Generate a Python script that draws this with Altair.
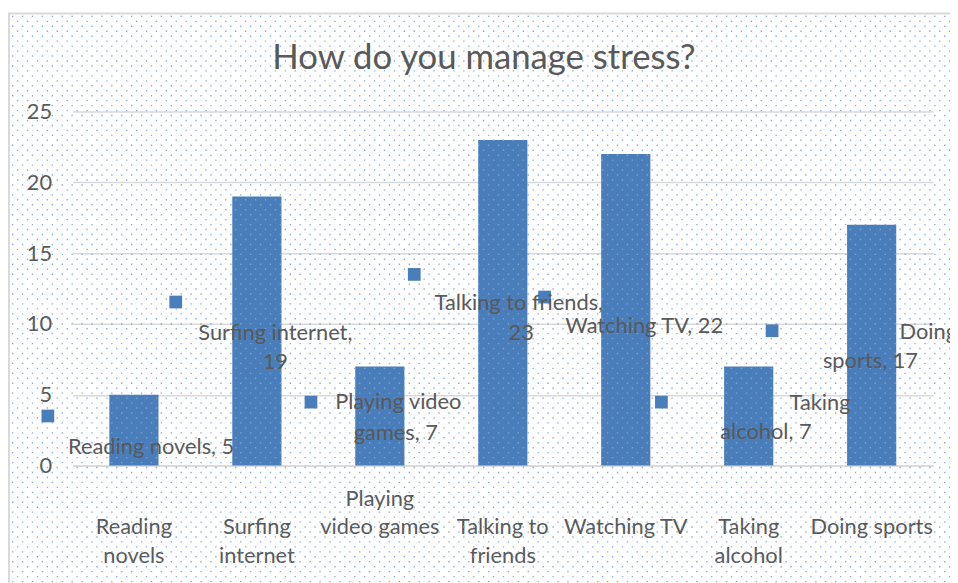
import json
import altair as alt
import pandas as pd
import numpy as np

# ---- data -------------------------------------------------------------
categories = ["Reading novels", "Surfing internet", "Playing video games",
              "Talking to friends", "Watching TV", "Taking alcohol", "Doing sports"]
values = [5, 19, 7, 23, 22, 7, 17]

# axis tick label lines (as wrapped in the original)
axis_label_lines = {
    "Reading novels": ["", "Reading", "novels"],
    "Surfing internet": ["", "Surfing", "internet"],
    "Playing video games": ["Playing", "video games", ""],
    "Talking to friends": ["", "Talking to", "friends"],
    "Watching TV": ["", "Watching TV", ""],
    "Taking alcohol": ["", "Taking", "alcohol"],
    "Doing sports": ["", "Doing sports", ""],
}

# data labels (moved around in the original), in category / value units
label_text = ["Reading novels, 5", "Surfing internet,", "19", "Playing video", "games, 7",
              "Talking to friends,", "23", "Watching TV, 22", "Taking", "alcohol, 7",
              "Doing", "sports, 17"]
label_x = [0.14, 1.15, 1.15, 2.15, 2.13, 3.13, 3.15, 4.15, 5.58, 5.14, 6.46, 5.99]
label_y = [1.33, 9.38, 7.28, 4.48, 2.31, 11.48, 9.38, 9.87, 4.41, 2.38, 9.45, 7.35]

# legend-key squares that accompany the data labels
key_x = [-0.70, 0.34, 1.44, 2.28, 3.34, 4.29, 5.19]
key_y = [3.5, 11.55, 4.48, 13.5, 11.9, 4.48, 9.52]

y_ticks = [0, 5, 10, 15, 20, 25]
title = "How do you manage stress?"

# ---- style --------------------------------------------------------------
FONT = "Lato"
TEXT = "#595959"
GRID = "#d9d9d9"
BAR = "#4a7ebb"
FS = 22
W, H = 868, 357
PAD = {"left": 65, "top": 102, "right": 17, "bottom": 116}

bars_df = pd.DataFrame({"category": categories, "value": values})
labels_df = pd.DataFrame({"text": label_text, "lx": label_x, "ly": label_y})
keys_df = pd.DataFrame({"kx": key_x, "ky": key_y})
title_df = pd.DataFrame({"t": [title]})

# decorative dotted background texture (pixel rows)
rows = np.arange(-96, 476, 5)
dots_even = pd.DataFrame({"py": rows[0::2]})
dots_odd = pd.DataFrame({"py": rows[1::2]})

label_expr = "(" + json.dumps(axis_label_lines) + ")[datum.value]"

yscale = alt.Scale(domain=[0, 25], nice=False)
yaxis = alt.Axis(title=None, values=y_ticks, ticks=False, domain=False,
                 labelPadding=21, gridColor=GRID, gridWidth=1.5, grid=True)
xq = alt.Scale(domain=[-0.5, 6.5], nice=False, zero=False)

border = alt.Chart(pd.DataFrame({"a": [0]})).mark_rect(
    fillOpacity=0, stroke=GRID, strokeWidth=2
).encode(x=alt.value(-64), x2=alt.value(900), y=alt.value(-99), y2=alt.value(600))

dot_kw = dict(color="#80a5d8", strokeWidth=1.4, strokeDash=[1.4, 8.6], opacity=0.9)
dots1 = alt.Chart(dots_even).mark_rule(strokeDashOffset=0, **dot_kw).encode(
    y=alt.Y("py:Q", scale=None), x=alt.value(-61), x2=alt.value(890))
dots2 = alt.Chart(dots_odd).mark_rule(strokeDashOffset=5, **dot_kw).encode(
    y=alt.Y("py:Q", scale=None), x=alt.value(-61), x2=alt.value(890))

bars = alt.Chart(bars_df).mark_bar(color=BAR).encode(
    x=alt.X("category:N", sort=categories,
            scale=alt.Scale(paddingInner=0.6, paddingOuter=0.3),
            axis=alt.Axis(title=None, labelAngle=0, ticks=False, labelExpr=label_expr,
                          labelBaseline="middle", labelPadding=33, labelLineHeight=29,
                          labelOverlap=False, labelLimit=300,
                          domainColor=GRID, domainWidth=1.5, grid=False)),
    y=alt.Y("value:Q", scale=yscale, axis=yaxis),
)

keys = alt.Chart(keys_df).mark_square(color=BAR, size=165, opacity=1).encode(
    x=alt.X("kx:Q", scale=xq, axis=None),
    y=alt.Y("ky:Q", scale=yscale, axis=yaxis),
)

labels = alt.Chart(labels_df).mark_text(
    font=FONT, fontSize=FS, color=TEXT, align="center", baseline="middle"
).encode(
    x=alt.X("lx:Q", scale=xq, axis=None),
    y=alt.Y("ly:Q", scale=yscale, axis=yaxis),
    text="text:N",
)

# chart title, centred a little left of the plot centre as in the original
title_mark = alt.Chart(title_df).mark_text(
    font=FONT, fontSize=35, color=TEXT, align="center", baseline="alphabetic", dx=-19, dy=-43
).encode(x=alt.value(W / 2), y=alt.value(0), text="t:N")

chart = alt.layer(border, bars, dots1, dots2, keys, labels, title_mark).resolve_scale(
    x="independent"
).properties(
    width=W, height=H,
    padding=PAD,
    autosize=alt.AutoSizeParams(type="none"),
    background="white",
).configure_view(stroke=None).configure_axis(
    labelFont=FONT, labelFontSize=FS, labelColor=TEXT,
)

chart.save("out.html", embed_options={"renderer": "svg", "actions": False})
